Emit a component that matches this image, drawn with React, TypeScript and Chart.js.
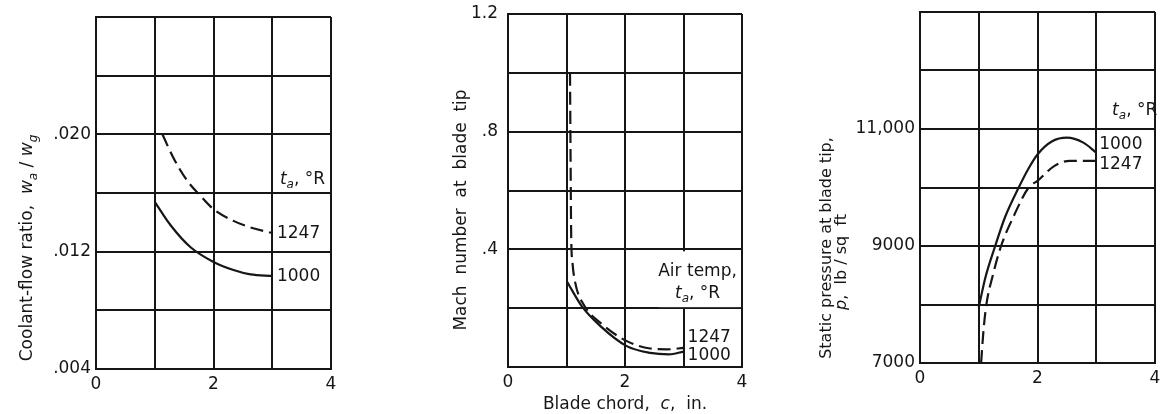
import React, { useEffect, useRef } from 'react';
import { Chart, registerables } from 'chart.js';

Chart.register(...registerables);

const FONT = '"DejaVu Sans", "Liberation Sans", sans-serif';
const INK = '#161616';

// ---------- Panel 1: coolant-flow ratio vs blade chord ----------
const p1Chord1247 = [1.13, 1.33, 1.56, 1.78, 2.0, 2.34, 2.63, 3.0];
const p1Flow1247 = [0.02, 0.0183, 0.0168, 0.0158, 0.0149, 0.0141, 0.01365, 0.01327];
const p1Chord1000 = [1.0, 1.27, 1.61, 2.0, 2.34, 2.63, 3.0];
const p1Flow1000 = [0.0154, 0.0138, 0.0123, 0.0113, 0.01075, 0.01045, 0.01035];
const p1YLabels = [0.004, 0.012, 0.02];

// ---------- Panel 2: Mach number at blade tip vs blade chord ----------
const p2Chord1247 = [1.06, 1.07, 1.08, 1.1, 1.15, 1.29, 1.58, 2.03, 2.43, 2.72, 3.0];
const p2Mach1247 = [1.0, 0.7, 0.45, 0.36, 0.286, 0.213, 0.15, 0.088, 0.063, 0.06, 0.065];
const p2Chord1000 = [1.01, 1.26, 1.58, 2.03, 2.43, 2.75, 3.0];
const p2Mach1000 = [0.29, 0.207, 0.139, 0.071, 0.048, 0.043, 0.052];
const p2YLabels = [0.4, 0.8, 1.2];

// ---------- Panel 3: static pressure at blade tip vs blade chord ----------
const p3Chord1000 = [1.0, 1.11, 1.28, 1.45, 1.68, 1.85, 2.0, 2.25, 2.5, 2.78, 3.0];
const p3Press1000 = [7950, 8450, 9000, 9500, 10000, 10330, 10565, 10790, 10852, 10767, 10596];
const p3Chord1247 = [1.04, 1.08, 1.13, 1.24, 1.38, 1.59, 1.85, 2.0, 2.29, 2.55, 3.0];
const p3Press1247 = [7000, 7550, 8000, 8500, 9000, 9500, 10000, 10114, 10370, 10455, 10455];
const p3YLabels = [7000, 9000, 11000];

const xLabels = [0, 2, 4];

type Seg = { t: string; i?: boolean; s?: boolean };

function segFont(size: number, sg: Seg) {
  const sz = sg.s ? Math.round(size * 0.68) : size;
  return `${sg.i ? 'italic ' : ''}${sz}px ${FONT}`;
}

function drawRich(
  ctx: CanvasRenderingContext2D,
  segs: Seg[],
  x: number,
  y: number,
  size: number,
  align: 'left' | 'center' | 'right',
  rot = 0
) {
  ctx.save();
  ctx.translate(x, y);
  ctx.rotate(rot);
  let w = 0;
  for (const sg of segs) {
    ctx.font = segFont(size, sg);
    w += ctx.measureText(sg.t).width;
  }
  let cx = align === 'left' ? 0 : align === 'center' ? -w / 2 : -w;
  ctx.textBaseline = 'middle';
  ctx.textAlign = 'left';
  ctx.fillStyle = INK;
  for (const sg of segs) {
    ctx.font = segFont(size, sg);
    ctx.fillText(sg.t, cx, sg.s ? size * 0.32 : 0);
    cx += ctx.measureText(sg.t).width;
  }
  ctx.restore();
}

const pts = (xs: number[], ys: number[]) => xs.map((x, i) => ({ x, y: ys[i] }));

const near = (v: number, list: number[]) => list.some((t) => Math.abs(v - t) < 1e-7);

function lineDs(xs: number[], ys: number[], dashed: boolean) {
  return {
    data: pts(xs, ys),
    borderColor: INK,
    borderWidth: 2.2,
    borderDash: dashed ? [13, 6] : [],
    pointRadius: 0,
    cubicInterpolationMode: 'monotone',
    fill: false,
  };
}

type PanelSpec = {
  yMin: number;
  yMax: number;
  yStep: number;
  yLabel: (v: number) => string;
  yPad: number;
  yW: number;
  xH: number;
  pad: { left: number; right: number; top: number; bottom: number };
  datasets: any[];
  annot: (chart: any) => void;
};

function buildConfig(p: PanelSpec): any {
  const tickFont = { family: FONT, size: 17 };
  return {
    type: 'line',
    data: { datasets: p.datasets },
    options: {
      animation: false,
      responsive: false,
      devicePixelRatio: 1,
      layout: { padding: p.pad, autoPadding: false },
      plugins: { legend: { display: false }, tooltip: { enabled: false } },
      scales: {
        x: {
          type: 'linear',
          min: 0,
          max: 4,
          ticks: {
            stepSize: 1,
            autoSkip: false,
            maxRotation: 0,
            padding: 5,
            color: INK,
            font: tickFont,
            callback: (v: number) => (near(v, xLabels) ? String(v) : ''),
          },
          grid: { color: INK, lineWidth: 2, drawTicks: false },
          border: { color: INK, width: 2 },
          afterFit: (s: any) => {
            s.height = p.xH;
            s.paddingLeft = 0;
            s.paddingRight = 0;
            s.paddingTop = 0;
            s.paddingBottom = 0;
          },
        },
        y: {
          type: 'linear',
          min: p.yMin,
          max: p.yMax,
          ticks: {
            stepSize: p.yStep,
            autoSkip: false,
            padding: p.yPad,
            color: INK,
            font: tickFont,
            callback: (v: number) => p.yLabel(v),
          },
          grid: { color: INK, lineWidth: 2, drawTicks: false },
          border: { color: INK, width: 2 },
          afterFit: (s: any) => {
            s.width = p.yW;
            s.paddingLeft = 0;
            s.paddingRight = 0;
            s.paddingTop = 0;
            s.paddingBottom = 0;
          },
        },
      },
    },
    plugins: [
      {
        id: 'annot',
        afterDraw: (chart: any) => p.annot(chart),
      },
    ],
  };
}

const ta: Seg[] = [{ t: 't', i: true }, { t: 'a', i: true, s: true }, { t: ', °R' }];

const panel1: PanelSpec = {
  yMin: 0.004,
  yMax: 0.028,
  yStep: 0.004,
  yLabel: (v) => (near(v, p1YLabels) ? v.toFixed(3).replace(/^0/, '') : ''),
  yPad: 5,
  yW: 96,
  xH: 45,
  pad: { left: 0, right: 49, top: 17, bottom: 0 },
  datasets: [lineDs(p1Chord1247, p1Flow1247, true), lineDs(p1Chord1000, p1Flow1000, false)],
  annot: (chart) => {
    const ctx = chart.ctx as CanvasRenderingContext2D;
    const xs = chart.scales.x;
    const ys = chart.scales.y;
    const X = (v: number) => xs.getPixelForValue(v);
    const Y = (v: number) => ys.getPixelForValue(v);
    drawRich(ctx, ta, X(3.13), Y(0.0169), 17, 'left');
    drawRich(ctx, [{ t: '1247' }], X(3.08), Y(0.0132), 17, 'left');
    drawRich(ctx, [{ t: '1000' }], X(3.08), Y(0.0103), 17, 'left');
    drawRich(
      ctx,
      [
        { t: 'Coolant-flow ratio,  ' },
        { t: 'w', i: true },
        { t: 'a', i: true, s: true },
        { t: ' / ' },
        { t: 'w', i: true },
        { t: 'g', i: true, s: true },
      ],
      28,
      248,
      17,
      'center',
      -Math.PI / 2
    );
  },
};

const panel2: PanelSpec = {
  yMin: 0,
  yMax: 1.2,
  yStep: 0.2,
  yLabel: (v) => (near(v, p2YLabels) ? (Math.abs(v - 1.2) < 1e-7 ? '1.2' : v.toFixed(1).replace(/^0/, '')) : ''),
  yPad: 10,
  yW: 128,
  xH: 47,
  pad: { left: 0, right: 38, top: 14, bottom: 0 },
  datasets: [lineDs(p2Chord1247, p2Mach1247, true), lineDs(p2Chord1000, p2Mach1000, false)],
  annot: (chart) => {
    const ctx = chart.ctx as CanvasRenderingContext2D;
    const xs = chart.scales.x;
    const ys = chart.scales.y;
    const X = (v: number) => xs.getPixelForValue(v);
    const Y = (v: number) => ys.getPixelForValue(v);
    ctx.save();
    ctx.fillStyle = '#ffffff';
    const bx = X(2.58);
    const by = Y(0.4) + 2;
    ctx.fillRect(bx, by, X(4) - 1 - bx, Y(0.2) - 1 - by);
    ctx.restore();
    drawRich(ctx, [{ t: 'Air temp,' }], X(3.24), Y(0.325), 17, 'center');
    drawRich(ctx, ta, X(3.24), Y(0.25), 17, 'center');
    drawRich(ctx, [{ t: '1247' }], X(3.07), Y(0.1), 17, 'left');
    drawRich(ctx, [{ t: '1000' }], X(3.07), Y(0.038), 17, 'left');
    const ca = chart.chartArea;
    drawRich(ctx, [{ t: 'Mach  number  at  blade  tip' }], 82, 210, 17, 'center', -Math.PI / 2);
    drawRich(
      ctx,
      [{ t: 'Blade chord,  ' }, { t: 'c', i: true }, { t: ',  in.' }],
      (ca.left + ca.right) / 2,
      405,
      17,
      'center'
    );
  },
};

const panel3: PanelSpec = {
  yMin: 7000,
  yMax: 13000,
  yStep: 1000,
  yLabel: (v) => (near(v, p3YLabels) ? (v >= 10000 ? v.toLocaleString('en-US') : String(v)) : ''),
  yPad: 5,
  yW: 160,
  xH: 51,
  pad: { left: 0, right: 5, top: 12, bottom: 0 },
  datasets: [lineDs(p3Chord1000, p3Press1000, false), lineDs(p3Chord1247, p3Press1247, true)],
  annot: (chart) => {
    const ctx = chart.ctx as CanvasRenderingContext2D;
    const xs = chart.scales.x;
    const ys = chart.scales.y;
    const X = (v: number) => xs.getPixelForValue(v);
    const Y = (v: number) => ys.getPixelForValue(v);
    drawRich(ctx, ta, X(3.27), Y(11320), 17, 'left');
    drawRich(ctx, [{ t: '1000' }], X(3.05), Y(10740), 17, 'left');
    drawRich(ctx, [{ t: '1247' }], X(3.05), Y(10385), 17, 'left');
    drawRich(ctx, [{ t: 'Static pressure at blade tip,' }], 67, 248, 16, 'center', -Math.PI / 2);
    drawRich(ctx, [{ t: 'p', i: true }, { t: ',  lb / sq  ft' }], 82, 262, 16, 'center', -Math.PI / 2);
  },
};

function ChartPanel({ left, width, spec }: { left: number; width: number; spec: PanelSpec }) {
  const ref = useRef<HTMLCanvasElement>(null);
  useEffect(() => {
    const chart = new Chart(ref.current as HTMLCanvasElement, buildConfig(spec));
    return () => chart.destroy();
  }, [spec]);
  return (
    <canvas
      ref={ref}
      width={width}
      height={414}
      style={{ position: 'absolute', left, top: 0, width, height: 414 }}
    />
  );
}

export default function App() {
  return (
    <div
      style={{
        position: 'absolute',
        left: 0,
        top: 0,
        width: 1160,
        height: 414,
        background: '#ffffff',
        overflow: 'hidden',
      }}
    >
      <ChartPanel left={0} width={380} spec={panel1} />
      <ChartPanel left={380} width={400} spec={panel2} />
      <ChartPanel left={760} width={400} spec={panel3} />
    </div>
  );
}
